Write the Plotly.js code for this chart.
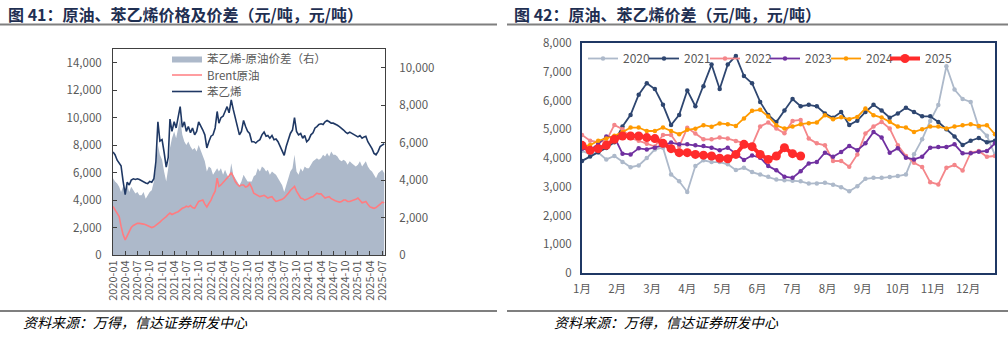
<!DOCTYPE html>
<html>
<head>
<meta charset="utf-8">
<script src="https://cdn.plot.ly/plotly-3.0.1.min.js"></script>
<style>
html,body{margin:0;padding:0;background:#fff;}
#chart{width:1008px;height:338px;}
</style>
</head>
<body>
<div id="chart"></div>
<script>
// ---------- Figure 41: semi-monthly samples, 2020-01 .. 2025-07 ----------
const startYear = 2020;
const sampleCount = 134; // 1st and 16th of each month

const styrene = [
  7500, 7300, 6900, 6700, 6500, 5400, 4400, 5300, 5100, 5450, 5550, 5500, 5550, 5500, 5400, 5350, 5250, 5200, 5350, 5300, 5550, 6800, 9700, 8300,
  8400, 7500, 6400, 7100, 9900, 9000, 9700, 9250, 10200, 10800, 9300, 9700, 9000, 9350, 8900, 9250, 8750, 9000, 9700, 9450, 9100, 8750, 7800, 8250,
  8650, 8750, 9250, 10450, 9600, 10000, 10100, 10450, 10800, 10350, 11300, 10600, 10000, 9500, 8750, 9000, 9800, 9350, 9000, 8850, 8250, 8250, 8150, 8300,
  8400, 8750, 8950, 8650, 8700, 8500, 8700, 8400, 8450, 8250, 7900, 7550, 7250, 7900, 8500, 8850, 9100, 10000, 9000, 8750, 8850, 8500, 8700, 8250,
  8400, 8750, 8900, 9250, 9350, 9500, 9550, 9500, 9700, 9800, 9700, 9600, 9600, 9550, 9450, 9350, 9250, 9100, 8950, 8850, 8950, 8850, 8750, 8700,
  8600, 8700, 8500, 8600, 8650, 8250, 8000, 7750, 7400, 7300, 7550, 7900, 8000, 8100
];
const brent = [
  3530, 3300, 3050, 2800, 2100, 1500, 1100, 1400, 1700, 2000, 2150, 2250, 2300, 2300, 2300, 2250, 2200, 2150, 2100, 2000, 2050, 2150, 2250, 2400,
  2550, 2650, 2800, 2950, 3050, 2950, 3050, 3100, 3150, 3300, 3400, 3450, 3550, 3500, 3600, 3450, 3400, 3650, 3900, 3950, 4000, 3700, 3500, 3750,
  4000, 4350, 4650, 5600, 5000, 5100, 5250, 5400, 5600, 5750, 6000, 5700, 5350, 5150, 5000, 5100, 5100, 4950, 5000, 5200, 4900, 4500, 4400, 4300,
  4250, 4300, 4350, 4250, 4150, 4200, 4250, 4050, 3900, 3950, 4000, 4050, 4150, 4300, 4500, 4700, 4850, 5000, 4650, 4400, 4150, 4100, 4000, 4050,
  4150, 4200, 4250, 4400, 4500, 4450, 4450, 4300, 4150, 4200, 4250, 4100, 4000, 3950, 3900, 3850, 3900, 4000, 4000, 3900, 3900, 3950, 3950, 4050,
  4150, 4000, 3800, 3850, 3900, 3700, 3500, 3450, 3400, 3450, 3550, 3700, 3850, 3800
];
const spread = [
  4100, 3920, 3820, 3640, 3370, 3640, 3550, 3730, 3370, 3640, 3460, 3280, 3370, 3190, 3190, 3370, 3010, 3190, 3370, 3460, 3920, 4630, 5880, 5350,
  5080, 4460, 3920, 4630, 5710, 6240, 6600, 6240, 6860, 7310, 6420, 6060, 5880, 6060, 5800, 5620, 5710, 5530, 5880, 5620, 5350, 5000, 4460, 4730,
  4630, 4280, 4460, 4630, 4460, 4630, 4280, 4550, 4280, 4100, 4900, 4280, 4100, 3920, 3730, 3920, 4280, 4100, 3920, 3920, 3920, 4200, 4280, 4630,
  4460, 4730, 4630, 4460, 4550, 4280, 4460, 4370, 4280, 4100, 3920, 3730, 3370, 3730, 4100, 4460, 4630, 5350, 4460, 4280, 4630, 4460, 4730, 4630,
  4630, 4820, 5000, 5080, 5170, 5080, 5170, 5350, 5260, 5440, 5260, 5530, 5350, 5350, 5260, 5080, 5000, 5080, 5000, 4820, 5000, 4900, 4820, 4730,
  4820, 5000, 4730, 4900, 5000, 4730, 4550, 4460, 4280, 4100, 4370, 4460, 4550, 4370
];

// ---------- Figure 42: weekly spread by year ----------
const monthLabels = ['1月','2月','3月','4月','5月','6月','7月','8月','9月','10月','11月','12月'];
const years = ['2020','2021','2022','2023','2024','2025'];
const w2020 = [4250,4130,4190,3950,4070,3860,3680,3740,4000,4300,4360,3430,3190,2820,3720,3920,3860,3860,3780,3580,3660,3510,3430,3350,3250,3230,3210,3190,3110,3110,3135,3070,2985,2845,3020,3275,3310,3310,3335,3370,3430,4130,4650,5290,5840,7190,6380,6050,5950,5060,4770,4100];
const w2021 = [3900,4050,4200,4350,4550,5100,5500,6200,6600,6400,5850,5150,5500,6350,5800,6500,7250,6400,7250,7550,6850,6600,5950,5500,5250,5650,6050,5800,5850,5800,5550,5400,5600,5150,5300,5600,5850,5650,5400,5550,5750,5600,5450,5450,5250,5000,4750,4450,4600,4700,4550,4600];
const w2022 = [4800,4600,4550,4600,5150,5000,4700,4600,4500,4400,4800,4800,4400,5050,4850,4650,4650,4710,4675,4595,4500,4440,5095,5235,5025,4860,5290,5325,4675,4510,4440,3895,3895,3695,4125,4850,5095,5255,5025,4440,4070,3835,3685,3160,3080,3660,3755,3565,4185,4245,4045,4070];
const w2023 = [4325,4270,4490,4745,4730,4150,4126,4336,4300,4360,4440,4535,4476,4476,4440,4418,4360,4266,4360,4150,3930,4090,4010,3720,3570,3350,3310,3540,3810,3860,4185,4045,4210,4420,4270,4510,4907,4710,4185,4336,4010,3950,4045,4360,4383,4383,4476,4161,4161,4220,4243,4511];
const w2024 = [4400,4450,4600,4680,4770,4900,5060,5060,4940,4940,5060,4940,4830,4980,5020,5140,5090,5200,5175,5117,5374,5641,5676,5443,5140,5024,5094,5175,5210,5234,5490,5350,5420,5350,5430,5723,5490,5408,5257,5094,5059,4907,5000,5094,5094,5024,5094,5140,5175,5117,5140,4826];
const w2025 = [4441,4266,4325,4441,4651,4767,4767,4767,4710,4675,4511,4325,4185,4185,4126,4100,4068,3990,3975,4126,4476,4395,4126,3952,4068,4360,4150,4068];

// ---------- build ----------
const dates = [];
for (let i = 0; i < sampleCount; i++) {
  const mIdx = Math.floor(i / 2);
  const y = startYear + Math.floor(mIdx / 12);
  const m = (mIdx % 12) + 1;
  dates.push(y + '-' + String(m).padStart(2, '0') + '-' + (i % 2 === 0 ? '01' : '16'));
}

const W = 1008, H = 338;
const px = v => v / W;
const py = v => 1 - v / H;
const CJK = 'Noto Sans CJK SC, Noto Sans, sans-serif';

const seriesYear = [w2020, w2021, w2022, w2023, w2024, w2025];
const yearColors = ['#ADB9CA', '#2E4670', '#F4868A', '#7030A0', '#FF9A00', '#FF2B2B'];

const traces = [
  {x: dates, y: spread, type: 'scatter', mode: 'lines', name: '苯乙烯-原油价差（右）',
   xaxis: 'x', yaxis: 'y', fill: 'tozeroy', fillcolor: '#ADB9CA', line: {width: 0, color: '#ADB9CA'}, legend: 'legend'},
  {x: dates, y: brent, type: 'scatter', mode: 'lines', name: 'Brent原油',
   xaxis: 'x', yaxis: 'y2', line: {width: 1.6, color: '#FF7C80'}, legend: 'legend2'},
  {x: dates, y: styrene, type: 'scatter', mode: 'lines', name: '苯乙烯',
   xaxis: 'x', yaxis: 'y2', line: {width: 1.6, color: '#1F3864'}, legend: 'legend3'}
];

seriesYear.forEach((vals, k) => {
  const isLast = k === seriesYear.length - 1;
  traces.push({
    x: vals.map((_, i) => i), y: vals, type: 'scatter', mode: 'lines+markers', name: years[k],
    xaxis: 'x2', yaxis: 'y3', legend: 'legend' + (4 + k),
    line: {width: isLast ? 4 : 1.8, color: yearColors[k]},
    marker: {size: isLast ? 9 : 4.5, color: yearColors[k]}
  });
});

const monthTicks = monthLabels.map((_, i) => i * 52 / 12);

const legendBase = {xanchor: 'left', yanchor: 'top', bgcolor: 'rgba(0,0,0,0)',
                    font: {size: 11.5, color: '#595959', family: CJK}};

const layout = {
  width: W, height: H,
  margin: {l: 0, r: 0, t: 0, b: 0},
  paper_bgcolor: '#ffffff', plot_bgcolor: '#ffffff',
  font: {family: CJK, size: 11, color: '#595959'},
  showlegend: true,
  xaxis: {
    domain: [px(113), px(385)], anchor: 'y', type: 'date',
    range: ['2020-01-01', '2025-07-22'], tick0: '2020-01-01', dtick: 'M3', tickformat: '%Y-%m',
    tickangle: -90, ticks: 'inside', ticklen: 4, tickcolor: '#404040',
    showline: true, mirror: true, linecolor: '#404040', linewidth: 1,
    showgrid: false, zeroline: false, tickfont: {size: 11, color: '#595959'}
  },
  yaxis: {
    domain: [py(255), py(49)], anchor: 'x', side: 'right', range: [0, 11000], dtick: 2000,
    tickformat: ',', ticks: 'inside', ticklen: 4, tickcolor: '#404040',
    showline: true, linecolor: '#404040', linewidth: 1, showgrid: false, zeroline: false,
    ticklabelstandoff: 11, tickfont: {size: 11.5, color: '#595959'}
  },
  yaxis2: {
    overlaying: 'y', anchor: 'x', side: 'left', range: [0, 15000], dtick: 2000,
    tickformat: ',', ticks: 'inside', ticklen: 4, tickcolor: '#404040',
    showline: true, linecolor: '#404040', linewidth: 1, showgrid: false, zeroline: false,
    ticklabelstandoff: 8, tickfont: {size: 11.5, color: '#595959'}
  },
  xaxis2: {
    domain: [px(582), px(995)], anchor: 'y3', range: [0, 51],
    tickvals: monthTicks, ticktext: monthLabels, ticks: '',
    showline: true, mirror: true, linecolor: '#1F3864', linewidth: 2,
    showgrid: false, zeroline: false, ticklabelstandoff: 4, tickfont: {size: 11.5, color: '#595959'}
  },
  yaxis3: {
    domain: [py(273), py(43)], anchor: 'x2', range: [0, 8000], dtick: 1000,
    tickformat: ',', ticks: '',
    showline: true, mirror: true, linecolor: '#1F3864', linewidth: 2,
    showgrid: false, zeroline: false, ticklabelstandoff: 6, tickfont: {size: 11.5, color: '#595959'}
  },
  legend:  Object.assign({x: px(167), y: py(44)}, legendBase),
  legend2: Object.assign({x: px(167), y: py(60.5)}, legendBase),
  legend3: Object.assign({x: px(167), y: py(77)}, legendBase),
  legend4: Object.assign({x: px(583), y: py(44)}, legendBase, {font: {size: 12, color: '#595959', family: CJK}}),
  legend5: Object.assign({x: px(644), y: py(44)}, legendBase, {font: {size: 12, color: '#595959', family: CJK}}),
  legend6: Object.assign({x: px(705), y: py(44)}, legendBase, {font: {size: 12, color: '#595959', family: CJK}}),
  legend7: Object.assign({x: px(765), y: py(44)}, legendBase, {font: {size: 12, color: '#595959', family: CJK}}),
  legend8: Object.assign({x: px(826), y: py(44)}, legendBase, {font: {size: 12, color: '#595959', family: CJK}}),
  legend9: Object.assign({x: px(885), y: py(44)}, legendBase, {font: {size: 12, color: '#595959', family: CJK}}),
  shapes: [
    {type: 'line', xref: 'paper', yref: 'paper', x0: 0, x1: px(497), y0: py(24.5), y1: py(24.5), line: {color: '#7F7F7F', width: 2}},
    {type: 'line', xref: 'paper', yref: 'paper', x0: px(507), x1: 1, y0: py(24.5), y1: py(24.5), line: {color: '#7F7F7F', width: 2}},
    {type: 'line', xref: 'paper', yref: 'paper', x0: 0, x1: px(497), y0: py(311), y1: py(311), line: {color: '#7F7F7F', width: 2}},
    {type: 'line', xref: 'paper', yref: 'paper', x0: px(507), x1: 1, y0: py(311), y1: py(311), line: {color: '#7F7F7F', width: 2}}
  ],
  annotations: [
    {text: '<b>图 41：原油、苯乙烯价格及价差（元/吨，元/吨）</b>', xref: 'paper', yref: 'paper', x: px(6), y: py(14),
     xanchor: 'left', yanchor: 'middle', showarrow: false, font: {family: CJK, size: 16, color: '#1F2F52'}},
    {text: '<b>图 42：原油、苯乙烯价差（元/吨，元/吨）</b>', xref: 'paper', yref: 'paper', x: px(512), y: py(14),
     xanchor: 'left', yanchor: 'middle', showarrow: false, font: {family: CJK, size: 16, color: '#1F2F52'}},
    {text: '<i>资料来源：万得，信达证券研发中心</i>', xref: 'paper', yref: 'paper', x: px(21), y: py(322),
     xanchor: 'left', yanchor: 'middle', showarrow: false, font: {family: CJK, size: 14, color: '#000000'}},
    {text: '<i>资料来源：万得，信达证券研发中心</i>', xref: 'paper', yref: 'paper', x: px(552), y: py(322),
     xanchor: 'left', yanchor: 'middle', showarrow: false, font: {family: CJK, size: 14, color: '#000000'}}
  ]
};

Plotly.newPlot('chart', traces, layout, {staticPlot: true, displayModeBar: false});
</script>
</body>
</html>
